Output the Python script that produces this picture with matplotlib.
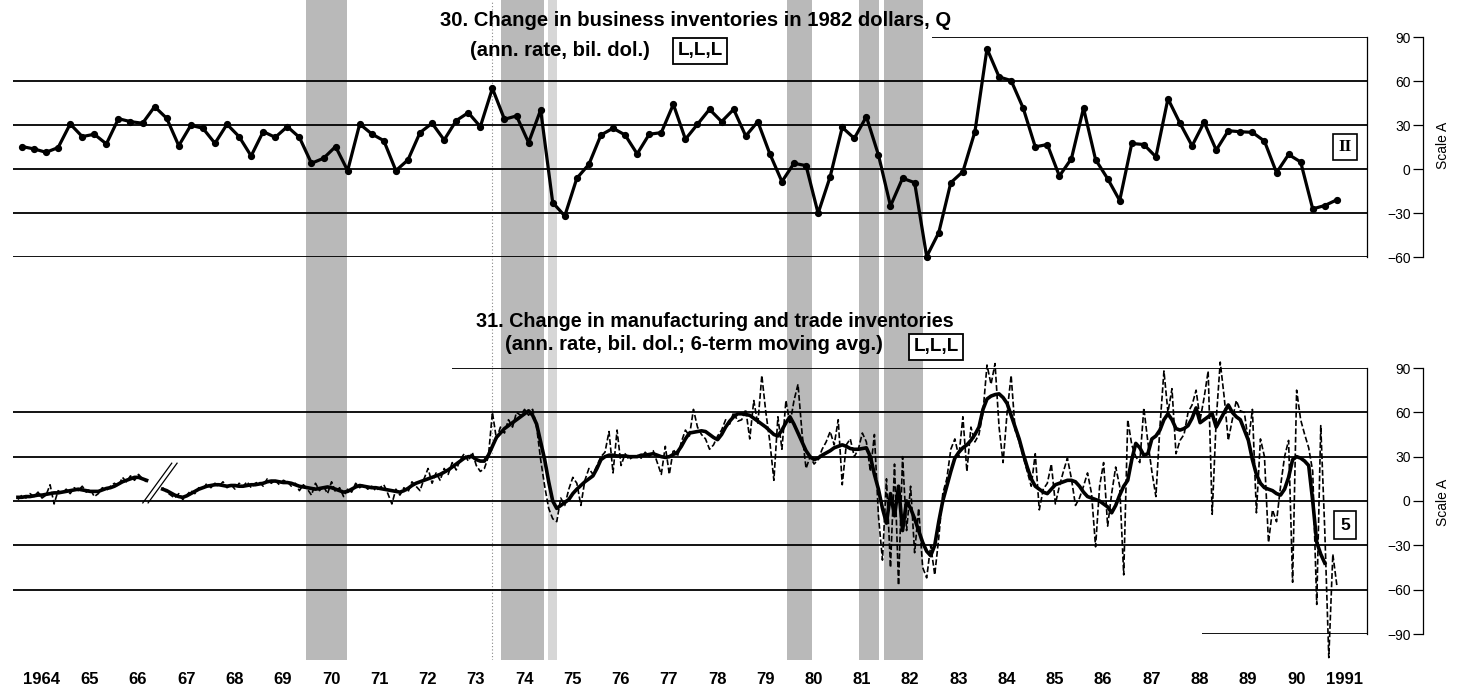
import numpy as np
import matplotlib.pyplot as plt
from matplotlib import font_manager, transforms

# fonts: condensed sans if installed
avail = {f.name for f in font_manager.fontManager.ttflist}
HAS_NARROW = 'Liberation Sans Narrow' in avail
FAM = ['Liberation Sans Narrow', 'DejaVu Sans'] if HAS_NARROW else ['Liberation Sans', 'DejaVu Sans']
K = 1.2 if HAS_NARROW else 1.0   # size factor for narrow face

# ---- data -------------------------------------------------------------
# series 30, quarterly, 1964Q1 .. 1991Q2 (ann. rate, bil. 1982 dol.)
s30 = [15.5, 13.9, 11.6, 14.8, 30.9, 22.3, 23.9, 17.3, 34.5, 32.5,
       31.4, 42.7, 34.8, 16.1, 30.0, 28.0, 17.7, 30.7, 22.3, 9.1,
       25.7, 21.8, 29.1, 21.8, 4.1, 7.5, 15.5, -0.9, 30.9, 24.1,
       19.5, -0.9, 6.4, 25.0, 31.4, 20.0, 33.2, 38.6, 29.1, 55.2,
       34.1, 36.4, 18.2, 40.5, -22.7, -31.8, -6.1, 3.4, 23.4, 28.0,
       23.4, 10.5, 23.9, 25.0, 44.3, 20.5, 30.7, 40.9, 32.5, 40.9,
       22.7, 32.5, 10.5, -8.4, 4.1, 2.5, -30.0, -5.0, 28.6, 21.1,
       35.9, 9.8, -25.0, -6.1, -9.1, -59.5, -43.2, -9.1, -1.6, 25.7,
       82.2, 63.0, 60.5, 41.7, 15.3, 16.9, -4.6, 7.3, 41.7, 6.6,
       -6.4, -21.3, 17.6, 16.9, 8.5, 48.1, 31.4, 16.0, 32.1, 13.1,
       26.3, 25.6, 25.2, 19.2, -2.3, 10.1, 5.0, -27.0, -24.7, -20.8]

nan = np.nan
# series 31, monthly, Jan 1964 .. May 1991
s31_raw = [
    1, 4, 2, 5, 3, 6, 2, 4, 11, -2, 7, 5,            # 1964
    8, 5, 9, 7, 10, 6, 8, 3, 5, 9, 7, 10,            # 1965
    12, 10, 16, 13, 17, 14, 18, 15, 13, nan, nan, nan,
    9, 6, 4, 2, 5, 1, 4, 7, 5, 9, 8, 12,             # 1967
    9, 12, 10, 13, 9, 11, 8, 12, 10, 13, 9, 12,
    13, 10, 15, 12, 14, 11, 14, 13, 10, 12, 7, 11,
    8, 4, 12, 7, 10, 5, 13, 6, 9, 3, 8, 6,           # 1970
    12, 9, 11, 8, 10, 7, 9, 11, 5, -2, 8, 4,
    9, 6, 13, 10, 7, 15, 22, 12, 19, 14, 22, 18,
    26, 21, 28, 32, 27, 33, 24, 20, 22, 30, 60, 42,
    50, 46, 55, 50, 60, 58, 62, 58, 62, 50, 28, 10,
    -5, -12, -14, 2, -3, 8, 16, 12, -3, 14, 22, 18,  # 1975
    24, 30, 33, 47, 19, 48, 24, 32, 28, 30, 31, 29,
    33, 30, 34, 26, 18, 37, 18, 35, 30, 40, 48, 44,
    62, 50, 45, 42, 35, 38, 44, 48, 55, 52, 60, 54,
    55, 62, 42, 68, 52, 85, 60, 40, 14, 57, 35, 68,
    52, 68, 79, 46, 22, 30, 25, 28, 35, 40, 47, 38,  # 1980
    55, 11, 38, 42, 30, 35, 46, 40, 20, 45, -10, -40,
    15, -45, 25, -57, 30, -20, 10, -35, -5, -45, -52, -30,
    -50, -25, 5, 15, 35, 42, 30, 57, 20, 50, 40, 45,
    60, 92, 79, 93, 50, 26, 60, 85, 48, 40, 30, 20,
    10, 32, -6, 8, 12, 25, -2, 10, 20, 29, 15, -3,   # 1985
    2, 10, 19, 5, -31, 10, 26, -17, 5, 23, 10, -50,
    55, 38, 30, 26, 63, 40, 20, 3, 50, 88, 60, 76,
    32, 41, 45, 60, 65, 75, 55, 70, 88, -9, 55, 94,
    70, 41, 55, 68, 61, 60, 40, 62, -8, 42, 30, -28,
    -6, -14, 10, 30, 41, -55, 75, 55, 45, 36, 20, -70,  # 1990
    51, -20, -106, -36, -57]

s31_ma = [
    2.5, 2.5, 3, 3, 3.5, 4, 4, 4.5, 5, 5.5, 5.5, 6,
    6.5, 7, 7.5, 8, 7.5, 7, 6.5, 6.5, 6.5, 7.5, 8.5, 9,
    10, 11.5, 13, 14, 15, 16, 16, 15, 14, nan, nan, nan,
    8, 7, 5.5, 4, 3, 2.5, 3.5, 5, 6.5, 8, 9, 10,
    10.5, 11, 11, 10.5, 10, 10.5, 10.5, 10, 10, 10.5, 11, 11,
    11.5, 12, 13, 13.5, 13.5, 13, 12.5, 12.5, 12, 11, 10, 9.5,
    9, 8.5, 8, 8.5, 9, 9.5, 9, 8, 7, 6, 6.5, 8,
    9.5, 10.5, 10, 9.5, 9, 9, 8.5, 8, 7.5, 7, 6.5, 6,
    7, 8.5, 10.5, 12, 13, 14, 15, 16, 17, 18, 19.5, 21,
    23, 25, 27, 29, 30, 30, 28, 27, 27, 31, 37, 43,
    46, 49, 51, 53, 55, 57, 59, 61, 58, 52, 40, 28,
    13, 0, -5, -3, -1, 1, 5, 8, 10.5, 13, 15, 17,
    22, 28, 30, 31, 31, 30.5, 30.5, 30.5, 30, 30, 30, 31,
    31, 31.5, 32, 31, 30, 29.5, 30, 31.5, 33, 37, 42, 46,
    46.5, 47, 47.5, 47, 45, 43, 41.5, 45, 50, 54, 57, 59,
    59, 58.5, 58, 56, 54, 52, 50, 47.5, 45, 44, 48, 53,
    57, 52, 46, 40, 34, 30, 28, 29, 31, 32.5, 34, 36,
    37, 38, 37, 35.5, 35, 35, 35.5, 36, 30, 18, 8, -5,
    -15, 5, -10, 10, -20, 0, -5, -12, -20, -28, -34, -37,
    -30, -14, 0, 10, 20, 29, 33, 36, 38, 41, 45, 50,
    62, 69, 71, 72, 72.5, 70, 66, 58, 50, 42, 32, 23,
    15, 10, 8, 6, 5, 8, 11, 12, 13, 14, 14, 13,
    10, 6, 3, 2, 1, 0, -2, -4, -8, -3, 4, 10,
    14, 28, 39, 36, 31, 32, 42, 44, 48, 55, 59, 55,
    49, 48, 49, 51, 56, 63, 53, 55, 57, 59, 50, 55,
    60, 65, 60, 57, 55, 48, 41, 28, 18, 12, 9, 8,
    7, 5, 4, 8, 16, 28, 30, 29, 27, 24, 0, -28,
    -36, -42, nan, nan, nan]

# recessions (peak, trough) as decimal years
recessions = [(1970.02, 1970.86), (1974.05, 1974.95), (1979.98, 1980.5),
              (1981.47, 1981.89), (1981.99, 1982.8)]
light_bands = [(1975.02, 1975.21)]

year_labels = ['1964'] + [str(y % 100) for y in range(1965, 1991)] + ['1991']

# ---- layout (pixel based) ---------------------------------------------
W, H = 1461, 694
fig = plt.figure(figsize=(W / 100, H / 100), dpi=100)


def box(x0, y0, x1, y1):
    return [x0 / W, 1 - y1 / H, (x1 - x0) / W, (y1 - y0) / H]


X0, X1 = 1963.94, 1992.0
LEFT, RIGHT = 13, 1367

bg = fig.add_axes(box(LEFT, 0, RIGHT, 660))
bg.set_xlim(X0, X1)
bg.set_ylim(0, 1)
bg.axis('off')
for a, b in recessions:
    bg.axvspan(a, b, color='#b9b9b9', lw=0)
for a, b in light_bands:
    bg.axvspan(a, b, color='#d6d6d6', lw=0)
bg.axvline(1973.87, color='#888888', lw=0.8, ls=(0, (1, 2)))

ax1 = fig.add_axes(box(LEFT, 37.3, RIGHT, 257.3))
ax2 = fig.add_axes(box(LEFT, 368, RIGHT, 634))
for ax, lo, hi in [(ax1, -60, 90), (ax2, -90, 90)]:
    ax.set_xlim(X0, X1)
    ax.set_ylim(lo, hi)
    ax.patch.set_visible(False)
    for s in ax.spines.values():
        s.set_visible(False)
    ax.set_xticks([])
    ax.set_yticks([])
    ax.plot([X1, X1], [lo, hi], color='k', lw=0.9, clip_on=False)

# gridlines
for v in [60, 30, 0, -30, -60]:
    ax1.hlines(v, X0, X1, color='k', lw=1.3)
    ax2.hlines(v, X0, X1, color='k', lw=1.3)
ax1.hlines(90, 1982.98, X1, color='k', lw=1.3)
ax2.hlines(90, 1973.04, X1, color='k', lw=1.3)
ax2.hlines(-90, 1988.58, X1, color='k', lw=1.3)

# series 30
tq = 1964.125 + 0.25 * np.arange(len(s30))
ax1.plot(tq, s30, color='k', lw=2.3, marker='o', ms=4.2, clip_on=False, zorder=5)

# series 31
tm = 1964 + (np.arange(len(s31_raw)) + 0.5) / 12
ax2.plot(tm, s31_raw, color='k', lw=1.2, ls=(0, (3.5, 1.5)), clip_on=False, zorder=4)
ax2.plot(tm, s31_ma, color='k', lw=2.6, clip_on=False, zorder=5)

# break marks
for dx in (0.0, 0.11):
    ax2.plot([1966.63 + dx, 1967.23 + dx], [-1.3, 25.6], color='k', lw=0.9, zorder=6)

# scale axes on the right
for (y0, y1, lo, hi, ticks, ylab) in [(37.3, 257.3, -60, 90, [90, 60, 30, 0, -30, -60], 145),
                                      (368, 634, -90, 90, [90, 60, 30, 0, -30, -60, -90], 502)]:
    sa = fig.add_axes(box(1423, y0, 1424, y1))
    sa.set_ylim(lo, hi)
    sa.patch.set_visible(False)
    for k in ['top', 'right', 'bottom']:
        sa.spines[k].set_visible(False)
    sa.spines['left'].set_linewidth(0.9)
    sa.set_xticks([])
    sa.set_yticks(ticks)
    sa.set_yticklabels([str(t).replace('-', '\u2212') for t in ticks], family=FAM, fontsize=10)
    sa.tick_params(axis='y', direction='out', length=7, width=0.9, pad=2)
    fig.text(1443 / W, 1 - ylab / H, 'Scale A', rotation=90, ha='center', va='center',
             family=FAM, fontsize=10)

# year labels
tr = transforms.blended_transform_factory(ax2.transData, fig.transFigure)
for i, lab in enumerate(year_labels):
    ax2.text(1964.53 + i, 1 - 680 / H, lab, transform=tr, ha='center', va='center',
             fontsize=12, fontweight='bold', family=['Liberation Sans', 'DejaVu Sans'])

# titles
def ptext(x, y, s, **kw):
    fig.text(x / W, 1 - y / H, s, **kw)

def tkw(fs):
    return dict(fontweight='bold', family=FAM, fontsize=fs * K, va='center', ha='left')

bkw = dict(fontweight='bold', family=FAM, fontsize=13.6 * K, va='center', ha='center',
           bbox=dict(boxstyle='square,pad=0.25', fc='white', ec='k', lw=1.3))
ptext(440, 21, '30. Change in business inventories in 1982 dollars, Q', **tkw(14.6))
ptext(470, 51, '(ann. rate, bil. dol.)', **tkw(14.6))
ptext(700, 51, 'L,L,L', **bkw)
ptext(476, 322, '31. Change in manufacturing and trade inventories', **tkw(14.2))
ptext(505, 345, '(ann. rate, bil. dol.; 6-term moving avg.)', **tkw(14.6))
ptext(936, 347, 'L,L,L', **bkw)

ptext(1345, 147, 'II', fontweight='bold', family=['Liberation Serif', 'DejaVu Serif'], fontsize=12.5,
      va='center', ha='center', bbox=dict(boxstyle='square,pad=0.3', fc='white', ec='k', lw=1.2))
ptext(1345, 525, '5', fontweight='bold', family=['Liberation Sans', 'DejaVu Sans'], fontsize=12.5,
      va='center', ha='center', bbox=dict(boxstyle='square,pad=0.35', fc='white', ec='k', lw=1.2))

fig.savefig('out.png', dpi=100, facecolor='white')
